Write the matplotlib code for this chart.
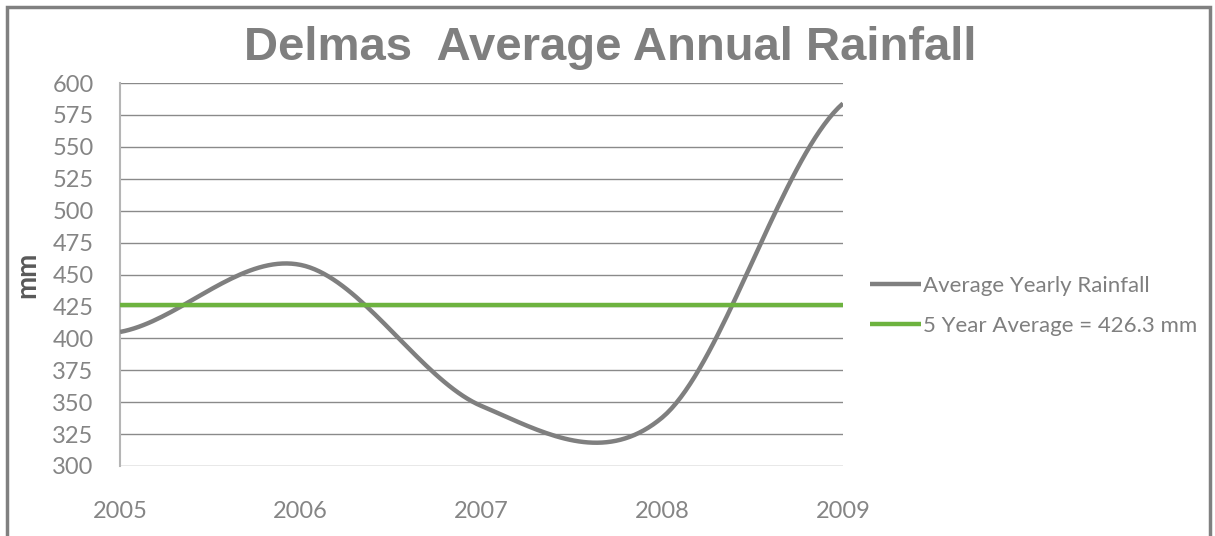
import numpy as np
import matplotlib
matplotlib.use("Agg")
import matplotlib.pyplot as plt
from matplotlib.patches import Rectangle

years = [2005, 2006, 2007, 2008, 2009]
rainfall = [405, 457.5, 347, 338, 584]
five_year_avg = 426.3

title = "Delmas  Average Annual Rainfall"
series_label = "Average Yearly Rainfall"
avg_label = "5 Year Average = 426.3 mm"
y_ticks = list(range(300, 601, 25))


def smooth(x, y, n=40):
    # Excel-style smoothed line (Catmull-Rom through the points)
    x = np.asarray(x, float)
    y = np.asarray(y, float)
    m = np.zeros_like(y)
    m[1:-1] = (y[2:] - y[:-2]) / 2
    m[0] = (y[1] - y[0]) / 2
    m[-1] = (y[-1] - y[-2]) / 2
    xs, ys = [], []
    for i in range(len(x) - 1):
        t = np.linspace(0, 1, n)
        h00 = 2 * t**3 - 3 * t**2 + 1
        h10 = t**3 - 2 * t**2 + t
        h01 = -2 * t**3 + 3 * t**2
        h11 = t**3 - t**2
        xs.append(x[i] + t * (x[i + 1] - x[i]))
        ys.append(h00 * y[i] + h10 * m[i] + h01 * y[i + 1] + h11 * m[i + 1])
    return np.concatenate(xs), np.concatenate(ys)


fig = plt.figure(figsize=(12.15, 5.36), dpi=100)
ax = fig.add_axes([0.0988, 0.1306, 0.5950, 0.7145])

grey = "#7f7f7f"
green = "#6db33f"

for v in y_ticks:
    ax.axhline(v, color="#8a8a8a", lw=1.0, zorder=1)

sx, sy = smooth(years, rainfall)
ax.plot(sx, sy, color=grey, lw=3.2, solid_capstyle="butt", label=series_label, zorder=3)
ax.plot([years[0], years[-1]], [five_year_avg, five_year_avg], color=green, lw=3.2,
        solid_capstyle="butt", label=avg_label, zorder=4)

ax.set_xlim(years[0], years[-1])
ax.set_ylim(300, 600)
ax.set_xticks(years)
ax.set_yticks(y_ticks)
for s in ["top", "right", "bottom"]:
    ax.spines[s].set_visible(False)
ax.spines["left"].set_color("#b5b5b5")
ax.spines["left"].set_linewidth(1.5)
ax.tick_params(axis="both", length=0, colors="#858585", labelsize=17)
ax.tick_params(axis="y", pad=19)
ax.tick_params(axis="x", pad=25)
for lab in ax.get_xticklabels() + ax.get_yticklabels():
    lab.set_family("Lato")

ax.set_ylabel("mm", fontsize=20, fontweight="bold", color="#595959", family="Lato", labelpad=9)

fig.text(0.502, 0.91, title, ha="center", va="center", fontsize=34, fontweight="bold",
         color="#7f7f7f", family="Liberation Sans")

leg = ax.legend(loc="center left", bbox_to_anchor=(1.037, 0.418), frameon=False,
                prop={"family": "Lato", "size": 16}, handlelength=2.3, handletextpad=0.1,
                labelspacing=0.87, borderpad=0, borderaxespad=0)
for t in leg.get_texts():
    t.set_color("#7f7f7f")

fig.patches.append(Rectangle((7 / 1215, -0.05), 1203 / 1215, 1 - 7 / 536 + 0.05,
                             transform=fig.transFigure, fill=False, edgecolor="#808080",
                             lw=2.5, zorder=10))

fig.savefig("out.png", dpi=100)
